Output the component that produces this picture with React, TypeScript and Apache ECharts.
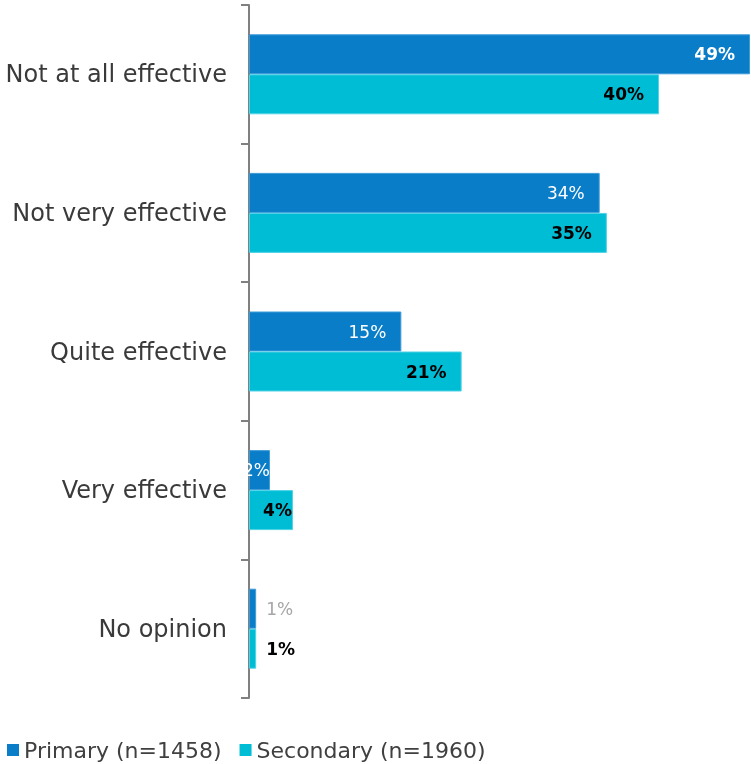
import React, { useEffect, useRef } from "react";
import * as echarts from "echarts";

const categories = ["Not at all effective", "Not very effective", "Quite effective", "Very effective", "No opinion"];
const primaryValues = [49, 34.3, 14.9, 2.05, 0.7];
const secondaryValues = [40.1, 35, 20.8, 4.3, 0.7];
const seriesNames = ["Primary (n=1458)", "Secondary (n=1960)"];

const FONT = "DejaVu Sans";
const PRIMARY = "#0A7DC8";
const SECONDARY = "#00BDD6";

export default function App() {
  const ref = useRef<HTMLDivElement>(null);
  useEffect(() => {
    if (!ref.current) return;
    const chart = echarts.init(ref.current, null, { renderer: "svg" });
    const fmt = (v: number) => Math.round(v) + "%";
    const primaryData = primaryValues.map((v, i) => {
      const small = v < 1.5;
      const tiny = v < 5;
      return {
        value: v,
        label: {
          show: true,
          position: small ? "right" : "insideRight",
          distance: small ? 10 : tiny ? 0 : 15,
          color: small ? "#A6A6A6" : "#FFFFFF",
          fontWeight: i === 0 ? "bold" : "normal",
          fontFamily: FONT,
          fontSize: 17,
          formatter: () => fmt(v),
        },
      };
    });
    const secondaryData = secondaryValues.map((v) => {
      const small = v < 1.5;
      const tiny = v < 5;
      return {
        value: v,
        label: {
          show: true,
          position: small ? "right" : "insideRight",
          distance: small ? 10 : tiny ? 1 : 15,
          color: "#000000",
          fontWeight: "bold",
          fontFamily: FONT,
          fontSize: 17,
          formatter: () => fmt(v),
        },
      };
    });
    chart.setOption({
      animation: false,
      textStyle: { fontFamily: FONT },
      grid: { left: 249, right: 1, top: 5, bottom: 66, containLabel: false },
      legend: {
        left: 2,
        bottom: -2,
        itemWidth: 12,
        itemHeight: 12,
        itemGap: 18,
        icon: "rect",
        itemStyle: { borderWidth: 0 },
        textStyle: { fontFamily: FONT, fontSize: 22, color: "#404040" },
        data: seriesNames,
      },
      xAxis: {
        type: "value",
        min: 0,
        max: 49,
        show: false,
      },
      yAxis: {
        type: "category",
        inverse: true,
        data: categories,
        axisLine: { show: true, lineStyle: { color: "#808080", width: 2 } },
        axisTick: { show: true, length: 8, lineStyle: { color: "#808080", width: 2 } },
        axisLabel: { margin: 22, fontFamily: FONT, fontSize: 24, color: "#3A3A3A" },
        splitLine: { show: false },
      },
      series: [
        {
          name: seriesNames[0],
          type: "bar",
          data: primaryData,
          barWidth: 40,
          barGap: "0%",
          itemStyle: { color: PRIMARY, borderColor: "#3F9BD8", borderWidth: 1 },
        },
        {
          name: seriesNames[1],
          type: "bar",
          data: secondaryData,
          barWidth: 40,
          barGap: "0%",
          itemStyle: { color: SECONDARY, borderColor: "#4FD3E6", borderWidth: 1 },
        },
      ],
    });
    return () => chart.dispose();
  }, []);
  return <div ref={ref} style={{ position: "fixed", left: 0, top: 0, width: 751, height: 764 }} />;
}
